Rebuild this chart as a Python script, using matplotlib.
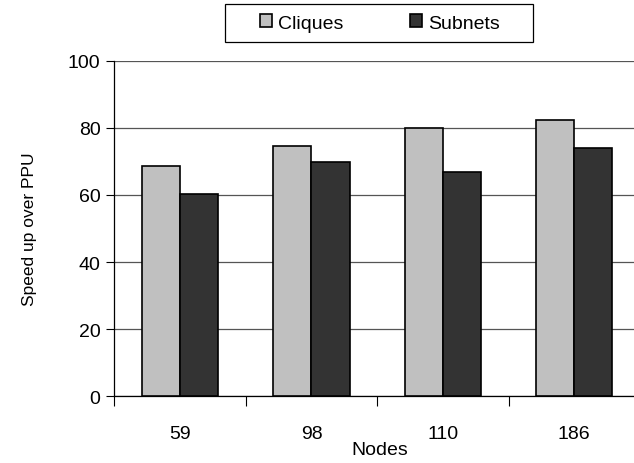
import matplotlib
matplotlib.use("Agg")
import matplotlib.pyplot as plt
from matplotlib.patches import Rectangle
import numpy as np

nodes = ["59", "98", "110", "186"]
cliques = [68.6, 74.5, 79.8, 82.2]
subnets = [60.3, 69.7, 66.8, 73.9]

plt.rcParams['font.family'] = ['Liberation Sans', 'DejaVu Sans']

W, H = 634, 464

def main():
    fig = plt.figure(figsize=(W / 100, H / 100), dpi=100)
    ax = fig.add_axes([0.1803, 0.1438, 0.8292, 0.7232])

    x = np.arange(len(nodes))
    w = 0.29
    ax.bar(x - w / 2, cliques, w, color='#c0c0c0', edgecolor='black', linewidth=1.2,
           label='Cliques', zorder=3)
    ax.bar(x + w / 2, subnets, w, color='#333333', edgecolor='black', linewidth=1.2,
           label='Subnets', zorder=3)

    ax.set_xlim(-0.5, len(nodes) - 0.5)
    ax.set_ylim(0, 100)
    ax.set_yticks([0, 20, 40, 60, 80, 100])
    ax.yaxis.grid(True, color='#555555', linewidth=0.9, zorder=0)
    ax.set_xticks(x)
    ax.set_xticklabels(nodes)
    ax.set_xticks(np.arange(len(nodes) + 1) - 0.5, minor=True)
    ax.tick_params(axis='x', which='major', length=0, pad=21, labelsize=14)
    ax.tick_params(axis='x', which='minor', length=7, width=0.8, direction='out')
    ax.tick_params(axis='y', length=6, width=0.8, labelsize=14, pad=4)

    for s in ['top', 'right']:
        ax.spines[s].set_visible(False)
    ax.spines['left'].set_linewidth(0.9)
    ax.spines['bottom'].set_linewidth(0.9)

    fig.text(30 / W, 1 - 229 / H, 'Speed up over PPU', rotation=90,
             ha='center', va='center', fontsize=12.5)
    fig.text(380 / W, 1 - 451 / H, 'Nodes', ha='center', va='center', fontsize=14)

    # legend box
    fig.patches.append(Rectangle((225 / W, 1 - 43 / H), 308 / W, 38 / H,
                                 transform=fig.transFigure, facecolor='white',
                                 edgecolor='black', linewidth=0.9))
    fig.legend(loc='center', bbox_to_anchor=(380 / W, 1 - 24 / H), ncol=2,
               fontsize=14, frameon=False,
               handlelength=0.62, handleheight=0.62, handletextpad=0.31,
               columnspacing=3.45, borderpad=0, borderaxespad=0)

    fig.savefig('out.png', dpi=100)

if __name__ == '__main__':
    main()
